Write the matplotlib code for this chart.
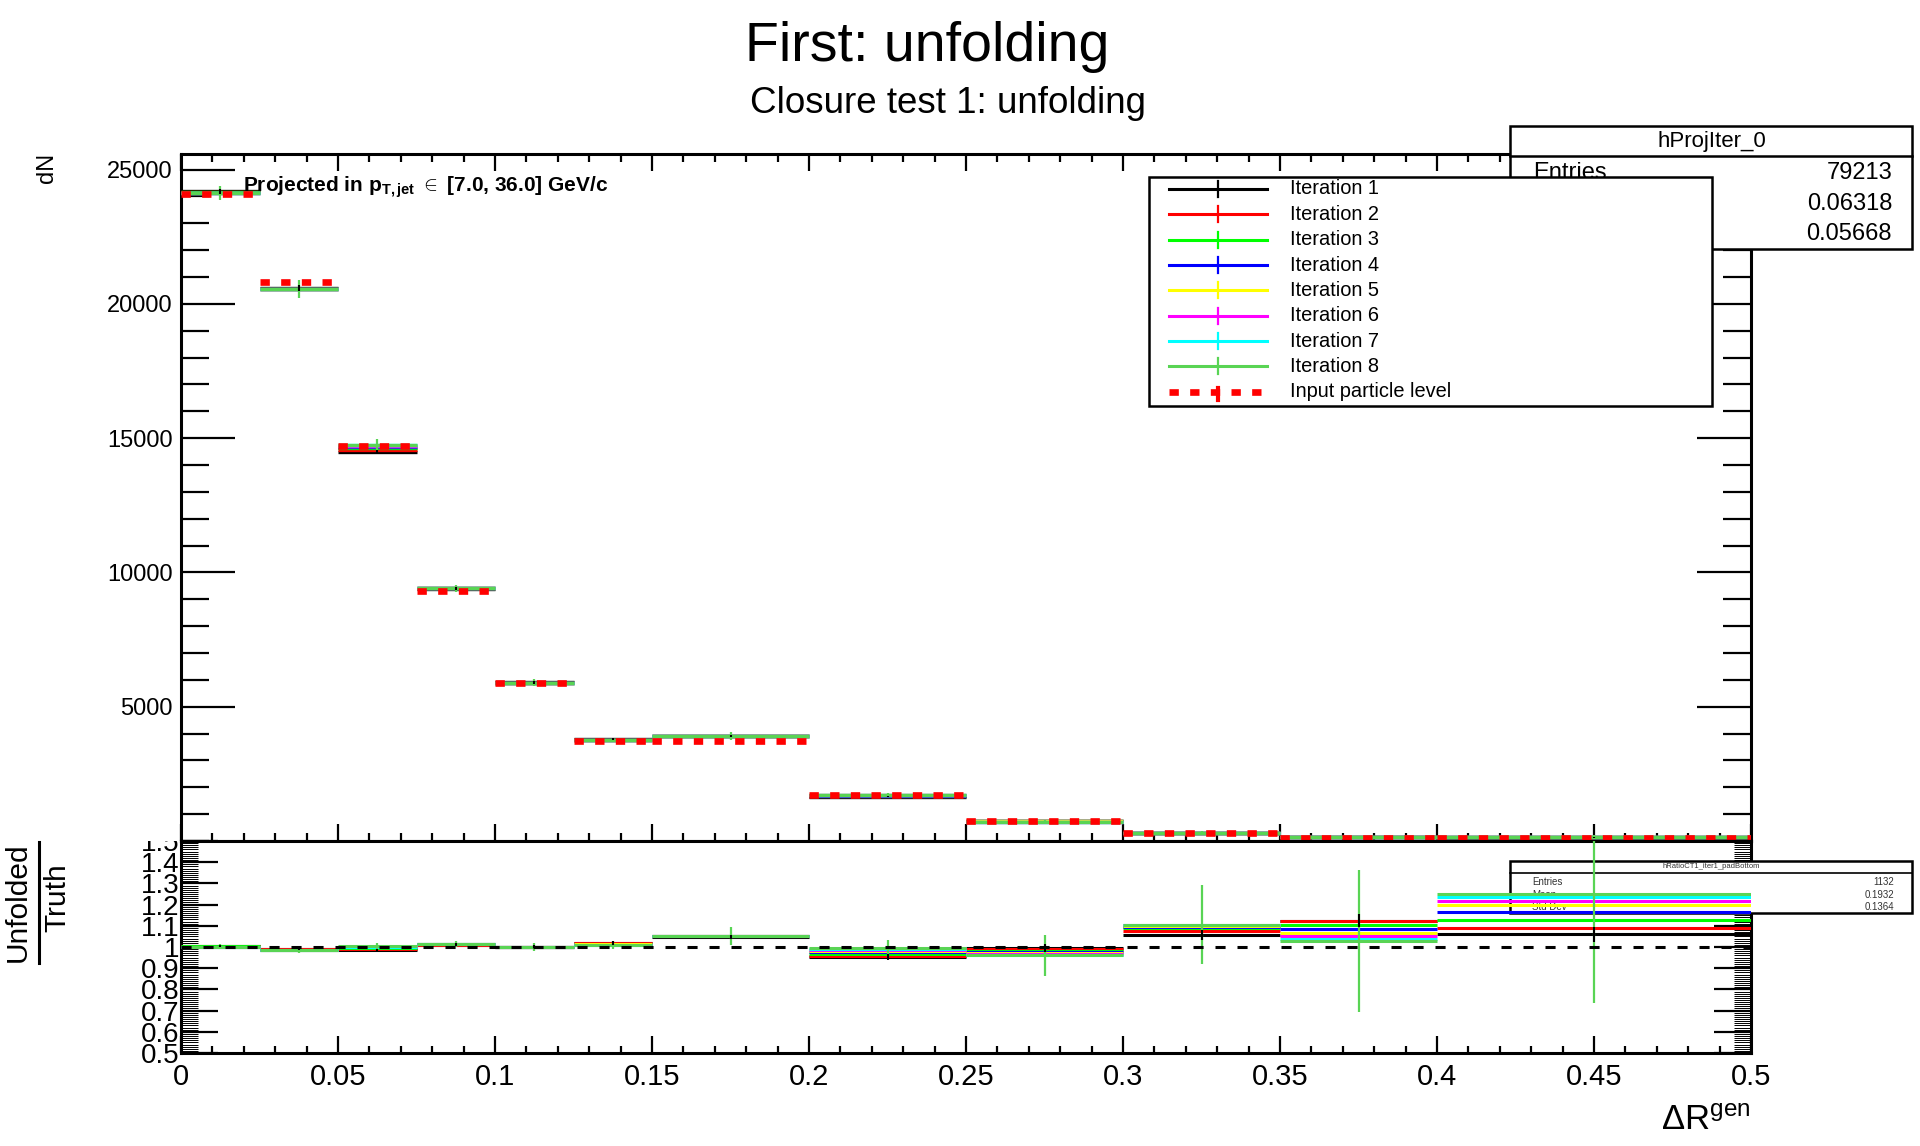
import matplotlib
matplotlib.use('Agg')
import matplotlib.pyplot as plt
import numpy as np
from matplotlib.patches import Rectangle
from matplotlib.lines import Line2D
from matplotlib.ticker import MultipleLocator, FixedLocator, FuncFormatter

plt.rcParams['font.family'] = ['Liberation Sans', 'DejaVu Sans']
plt.rcParams['mathtext.fontset'] = 'custom'
plt.rcParams['mathtext.rm'] = 'Liberation Sans'
plt.rcParams['mathtext.it'] = 'Liberation Sans:italic'
plt.rcParams['mathtext.bf'] = 'Liberation Sans:bold'

# ---------------- data ----------------
bin_edges = [0, 0.025, 0.05, 0.075, 0.1, 0.125, 0.15, 0.2, 0.25, 0.3, 0.35, 0.4, 0.5]
truth = [24090, 20800, 14700, 9300, 5900, 3710, 3720, 1730, 750, 280, 130, 120]

ratio_iter1 = [1.004, 0.990, 0.985, 1.010, 1.001, 1.020, 1.048, 0.953, 0.995, 1.056, 1.125, 1.059]
ratio_iter2 = [1.003, 0.989, 0.990, 1.011, 1.000, 1.018, 1.050, 0.958, 0.990, 1.075, 1.121, 1.090]
ratio_iter3 = [1.003, 0.988, 0.995, 1.012, 1.000, 1.015, 1.051, 0.968, 0.982, 1.090, 1.106, 1.129]
ratio_iter4 = [1.002, 0.988, 0.998, 1.012, 1.000, 1.013, 1.052, 0.976, 0.976, 1.095, 1.083, 1.165]
ratio_iter5 = [1.002, 0.988, 1.000, 1.012, 1.000, 1.012, 1.052, 0.982, 0.970, 1.100, 1.067, 1.200]
ratio_iter6 = [1.002, 0.988, 1.001, 1.012, 1.000, 1.011, 1.053, 0.987, 0.966, 1.102, 1.051, 1.218]
ratio_iter7 = [1.002, 0.988, 1.002, 1.012, 1.000, 1.010, 1.053, 0.991, 0.962, 1.104, 1.039, 1.238]
ratio_iter8 = [1.002, 0.988, 1.003, 1.012, 1.000, 1.010, 1.053, 0.994, 0.960, 1.106, 1.028, 1.250]

ratio_err_iter1 = [0.004, 0.005, 0.006, 0.007, 0.008, 0.010, 0.010, 0.015, 0.020, 0.022, 0.030, 0.035]
ratio_err_iter8 = [0.011, 0.016, 0.015, 0.014, 0.020, 0.020, 0.042, 0.040, 0.097, 0.185, 0.335, 0.516]

series_labels = ["Iteration 1", "Iteration 2", "Iteration 3", "Iteration 4",
                 "Iteration 5", "Iteration 6", "Iteration 7", "Iteration 8"]
series_colors = ["#000000", "#ff0000", "#00ff00", "#0000ff",
                 "#ffff00", "#ff00ff", "#00ffff", "#59d454"]
truth_label = "Input particle level"

stats_top = [("Entries", "79213"), ("Mean", "0.06318"), ("Std Dev", "0.05668")]
stats_bottom = [("Entries", "1132"), ("Mean", "0.1932"), ("Std Dev", "0.1364")]

x_ticks = [0, 0.05, 0.1, 0.15, 0.2, 0.25, 0.3, 0.35, 0.4, 0.45, 0.5]
y_ticks_top = [5000, 10000, 15000, 20000, 25000]
y_ticks_ratio = [0.5, 0.6, 0.7, 0.8, 0.9, 1.0, 1.1, 1.2, 1.3, 1.4, 1.5]

ratios = [ratio_iter1, ratio_iter2, ratio_iter3, ratio_iter4,
          ratio_iter5, ratio_iter6, ratio_iter7, ratio_iter8]

# ---------------- figure ----------------
W, H = 1920, 1146
fig = plt.figure(figsize=(19.2, 11.46), dpi=100)

def fx(px):
    return px / W

def fy(py):
    return 1 - py / H

L, R = 181, 1751
T1, B1, B2 = 154, 841, 1053
ax1 = fig.add_axes([fx(L), fy(B1), fx(R) - fx(L), fy(T1) - fy(B1)])
ax2 = fig.add_axes([fx(L), fy(B2), fx(R) - fx(L), fy(B1) - fy(B2)])

edges = np.array(bin_edges)
lo_e, hi_e = edges[:-1], edges[1:]
centers = 0.5 * (lo_e + hi_e)
truth_a = np.array(truth)

# top panel
for i, (r, c) in enumerate(zip(ratios, series_colors)):
    vals = truth_a * np.array(r)
    ax1.hlines(vals, lo_e, hi_e, colors=c, lw=2.4, zorder=3 + i * 0.01)
    if i == 0:
        e = truth_a * np.array(ratio_err_iter1)
        ax1.vlines(centers, vals - e, vals + e, colors=c, lw=1.5, zorder=3.2)
    if i == 7:
        e = truth_a * np.array(ratio_err_iter8)
        ax1.vlines(centers, vals - e, vals + e, colors=c, lw=1.6, zorder=3.1)
ax1.hlines(truth_a, lo_e, hi_e, colors="#ff0000", lw=4.8,
           linestyles=(0, (1.4, 1.7)), zorder=4)

ax1.set_xlim(0, 0.5)
ax1.set_ylim(0, 25580)
ax1.yaxis.set_major_locator(FixedLocator(y_ticks_top))
ax1.yaxis.set_minor_locator(MultipleLocator(1000))
ax1.xaxis.set_major_locator(FixedLocator(x_ticks))
ax1.xaxis.set_minor_locator(MultipleLocator(0.01))
ax1.yaxis.set_major_formatter(FuncFormatter(lambda v, p: "%d" % v))
ax1.tick_params(axis='y', which='major', direction='in', length=39, width=1.6,
                left=True, right=True, labelsize=17, pad=6)
ax1.tick_params(axis='y', which='minor', direction='in', length=20, width=1.6,
                left=True, right=True)
ax1.tick_params(axis='x', which='major', direction='in', length=12.5, width=1.6,
                top=True, bottom=True, labelbottom=False)
ax1.tick_params(axis='x', which='minor', direction='in', length=6, width=1.6,
                top=True, bottom=True)
for s in ax1.spines.values():
    s.set_linewidth(2.2)

# ratio panel
for i, (r, c) in enumerate(zip(ratios, series_colors)):
    ax2.hlines(r, lo_e, hi_e, colors=c, lw=2.2, zorder=3 + i * 0.01)
    ra = np.array(r)
    if i == 0:
        e = np.array(ratio_err_iter1)
        ax2.vlines(centers, ra - e, ra + e, colors=c, lw=1.5, zorder=3.2)
    if i == 7:
        e = np.array(ratio_err_iter8)
        ax2.vlines(centers, ra - e, ra + e, colors=c, lw=1.6, zorder=3.1)
ax2.axhline(1.0, color='black', lw=2.2, ls=(0, (3.3, 3.9)), zorder=5)

ax2.set_xlim(0, 0.5)
ax2.set_ylim(0.5, 1.5)
ax2.yaxis.set_major_locator(FixedLocator(y_ticks_ratio))
ax2.yaxis.set_minor_locator(MultipleLocator(0.01))
ax2.xaxis.set_major_locator(FixedLocator(x_ticks))
ax2.xaxis.set_minor_locator(MultipleLocator(0.01))
ax2.yaxis.set_major_formatter(FuncFormatter(lambda v, p: "%g" % round(v, 2)))
ax2.xaxis.set_major_formatter(FuncFormatter(lambda v, p: "%g" % round(v, 3)))
ax2.tick_params(axis='y', which='major', direction='in', length=26.5, width=1.6,
                left=True, right=True, labelsize=20, pad=1)
ax2.tick_params(axis='y', which='minor', direction='in', length=12, width=0.7,
                left=True, right=True)
ax2.tick_params(axis='x', which='major', direction='in', length=12.5, width=1.6,
                top=False, bottom=True, labelsize=21, pad=7)
ax2.tick_params(axis='x', which='minor', direction='in', length=5, width=1.6,
                top=False, bottom=True)
for lbl in ax2.get_yticklabels():
    lbl.set_family(['Liberation Sans Narrow', 'Liberation Sans'])
for s in ax2.spines.values():
    s.set_linewidth(2.2)

# ratio stats box (under the histogram lines)
ax2.add_patch(Rectangle((fx(1510), fy(913)), fx(1912) - fx(1510), fy(861) - fy(913),
                        transform=fig.transFigure, fc='white', ec='black', lw=1.8,
                        clip_on=False, zorder=2.7))
ax2.add_line(Line2D([fx(1510), fx(1912)], [fy(873), fy(873)], transform=fig.transFigure,
                    color='black', lw=1.2, clip_on=False, zorder=2.75))
ax2.text(fx(1711), fy(867), "hRatioCT1_iter1_padBottom", transform=fig.transFigure,
         ha='center', va='center', fontsize=5.5, clip_on=False, zorder=2.8, color='#333333')
for k, (lab, val) in enumerate(stats_bottom):
    yy = 882 + k * 12.5
    ax2.text(fx(1532), fy(yy), lab, transform=fig.transFigure, ha='left', va='center',
             fontsize=7, clip_on=False, zorder=2.8, color='#333333')
    ax2.text(fx(1894), fy(yy), val, transform=fig.transFigure, ha='right', va='center',
             fontsize=7, clip_on=False, zorder=2.8, color='#333333')

# cover upper half of the "1.5" label (ROOT pad overlap)
fig.add_artist(Rectangle((fx(100), fy(840.5)), fx(178) - fx(100), fy(815) - fy(840.5),
                         transform=fig.transFigure, fc='white', ec='none', zorder=1))

# top stats box
fig.add_artist(Rectangle((fx(1510), fy(249)), fx(1912) - fx(1510), fy(126) - fy(249),
                         transform=fig.transFigure, fc='white', ec='black', lw=1.8, zorder=2))
fig.add_artist(Line2D([fx(1510), fx(1912)], [fy(156), fy(156)], transform=fig.transFigure,
                      color='black', lw=1.8, zorder=2.1))
fig.text(fx(1712), fy(141), "hProjIter_0", ha='center', va='center', fontsize=16, zorder=2.2)
for k, (lab, val) in enumerate(stats_top):
    yy = 173 + k * 30.5
    fig.text(fx(1533), fy(yy), lab, ha='left', va='center', fontsize=17, zorder=2.2)
    fig.text(fx(1892), fy(yy), val, ha='right', va='center', fontsize=17, zorder=2.2)

# legend (drawn manually, on top of the stats box)
fig.add_artist(Rectangle((fx(1149), fy(405.5)), fx(1712) - fx(1149), fy(177) - fy(405.5),
                         transform=fig.transFigure, fc='white', ec='black', lw=1.8, zorder=3))
row0, dy = 189, 25.35
for k, (lab, c) in enumerate(zip(series_labels, series_colors)):
    yy = row0 + k * dy
    fig.add_artist(Line2D([fx(1169), fx(1267)], [fy(yy), fy(yy)], transform=fig.transFigure,
                          color=c, lw=2.2, zorder=3.1))
    fig.add_artist(Line2D([fx(1218), fx(1218)], [fy(yy - 8), fy(yy + 8)],
                          transform=fig.transFigure, color=c, lw=1.6, zorder=3.1))
    fig.text(fx(1290), fy(yy), lab, ha='left', va='center', fontsize=14.4, zorder=3.2)
yy = row0 + 8 * dy
fig.add_artist(Line2D([fx(1169), fx(1267)], [fy(yy), fy(yy)], transform=fig.transFigure,
                      color='#ff0000', lw=4.8, ls=(0, (1.4, 1.7)), zorder=3.1))
fig.add_artist(Line2D([fx(1218), fx(1218)], [fy(yy - 4), fy(yy + 8)],
                      transform=fig.transFigure, color='#ff0000', lw=3, zorder=3.1))
fig.text(fx(1290), fy(yy), truth_label, ha='left', va='center', fontsize=14.4, zorder=3.2)

# texts
fig.text(fx(927), fy(61), "First: unfolding", ha='center', va='baseline', fontsize=40)
fig.text(fx(948), fy(113), "Closure test 1: unfolding", ha='center', va='baseline', fontsize=26.5)
fig.text(fx(243), fy(192), r"Projected in p$_{\mathbf{T,jet}}$ $\in$ [7.0, 36.0] GeV/c",
         ha='left', va='baseline', fontsize=15, fontweight='bold', zorder=5)
fig.text(fx(47), fy(168), "dN", rotation=90, ha='center', va='center', fontsize=17)
fig.text(fx(1751), fy(1130), r"ΔR$^{\mathrm{gen}}$", ha='right', va='baseline', fontsize=25)
fig.text(fx(18), fy(902), "Unfolded", rotation=90, ha='center', va='center', fontsize=21.5)
fig.text(fx(57), fy(898), "Truth", rotation=90, ha='center', va='center', fontsize=21.5)
fig.add_artist(Line2D([fx(39), fx(39)], [fy(842), fy(963)], transform=fig.transFigure,
                      color='black', lw=2.2))

fig.savefig("out.png", dpi=100, facecolor='white')
